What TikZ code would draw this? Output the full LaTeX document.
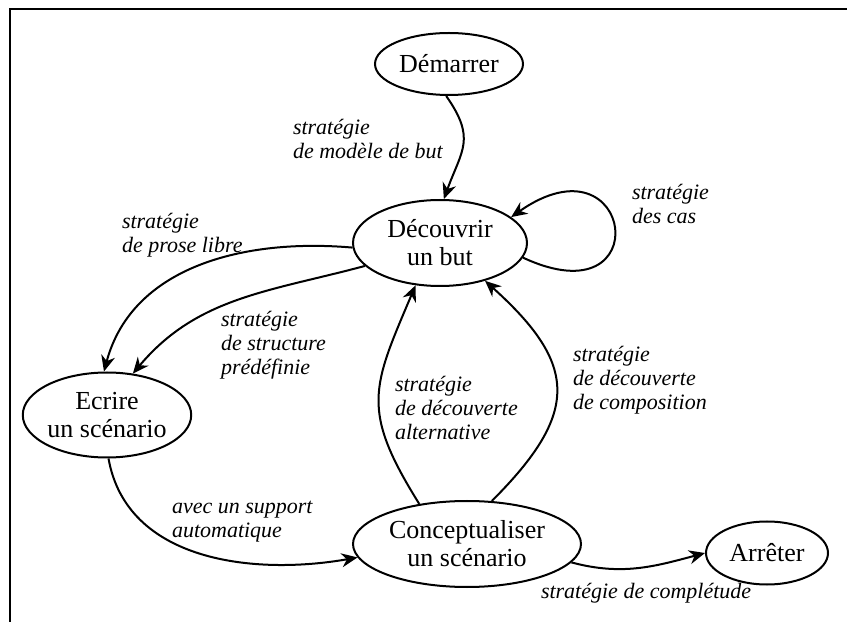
\documentclass[tikz,border=0pt]{standalone}
\usepackage{fontspec}
\setmainfont{Liberation Serif}
\usetikzlibrary{arrows.meta,shapes.geometric}

\begin{document}
\begin{tikzpicture}[
  x=0.5pt, y=0.5pt,
  line width=1pt,
  etat/.style={draw,ellipse,inner sep=0pt,align=center,
               font=\fontsize{13}{14}\selectfont},
  arr/.style={-{Stealth[length=8pt,width=7pt]}},
  lbl/.style={anchor=north west,align=left,inner sep=0pt,
              font=\fontsize{11}{12}\selectfont\itshape}
]
\useasboundingbox (0,0) rectangle (847,622);

% Frame
\draw (847,613) -- (10,613) -- (10,0);

% Intentions
\node[etat,minimum width=74pt,minimum height=31pt]   (dem) at (449,558) {Démarrer};
\node[etat,minimum width=87pt,minimum height=43pt]   (dec) at (440,379) {Découvrir\\un but};
\node[etat,minimum width=77.5pt,minimum height=42.5pt] (ecr) at (107,207) {Ecrire\\un scénario};
\node[etat,minimum width=114pt,minimum height=43pt]  (con) at (467,78)  {Conceptualiser\\un scénario};
\node[etat,minimum width=61pt,minimum height=31.5pt] (fin) at (767,69)  {Arrêter};

% Strategies
\draw[arr] (dem.265) to[out=-55,in=70,looseness=1.3] (dec.85);
\draw[arr] (dec.-10) .. controls +(-25:150) and +(35:150) .. (dec.20);
\draw[arr] (dec.183) to[out=175,in=75] (ecr.94);
\draw[arr] (dec.197) to[out=195,in=50] (ecr.58);
\draw[arr] (ecr.-88) to[out=-80,in=190] (con.187);
\draw[arr] (con.140) to[out=122,in=-113,looseness=1.3] (dec.-120);
\draw[arr] (con.60) to[out=45,in=-42,looseness=1.45] (dec.-40);
\draw[arr] (con.-10) to[out=-15,in=195] (fin.west);

% Labels
\node[lbl] (lModele)  at (292,504) {stratégie\\de modèle de but};
\node[lbl] (lCas)     at (631,439) {stratégie\\des cas};
\node[lbl] (lProse)   at (121,410) {stratégie\\de prose libre};
\node[lbl] (lStruct)  at (220,312) {stratégie\\de structure\\prédéfinie};
\node[lbl] (lAlt)     at (394,247) {stratégie\\de découverte\\alternative};
\node[lbl] (lCompo)   at (572,277) {stratégie\\de découverte\\de composition};
\node[lbl] (lSupport) at (171,122) {avec un support\\automatique};
\node[lbl,anchor=base west] (lCompl) at (540,24) {stratégie de complétude};

\end{tikzpicture}
\end{document}
